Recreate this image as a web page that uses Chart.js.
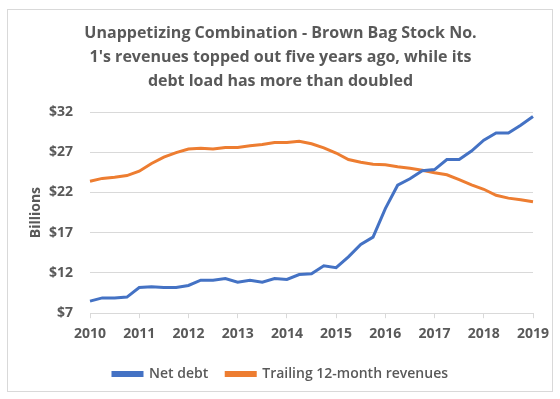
<!DOCTYPE html>
<html>
<head>
<meta charset="utf-8">
<script src="https://cdn.jsdelivr.net/npm/chart.js@4"></script>
<style>
  html, body { margin: 0; padding: 0; background: #fff; }
  #frame { position: absolute; left: 7px; top: 9px; width: 544px; height: 381px; border: 1px solid #d9d9d9; }
  #wrap { position: absolute; left: 0; top: 0; width: 560px; height: 399px; }
</style>
</head>
<body>
<div id="frame"></div>
<div id="wrap"><canvas id="chart"></canvas></div>
<script>
//
// data, quarterly from 2010 to 2019
//
var quarterLabels = [
  '2010', '', '', '', '2011', '', '', '', '2012', '', '', '',
  '2013', '', '', '', '2014', '', '', '', '2015', '', '', '',
  '2016', '', '', '', '2017', '', '', '', '2018', '', '', '', '2019'
];
var netDebt = [
  8.5, 8.9, 8.9, 9.0, 10.2, 10.3, 10.2, 10.2, 10.45, 11.1, 11.1, 11.3,
  10.85, 11.1, 10.85, 11.3, 11.2, 11.8, 11.9, 12.9, 12.65, 14.0, 15.55, 16.45,
  20.0, 22.9, 23.7, 24.7, 24.85, 26.1, 26.1, 27.15, 28.5, 29.4, 29.4, 30.35, 31.45
];
var revenues = [
  23.4, 23.75, 23.9, 24.1, 24.65, 25.6, 26.4, 26.95, 27.4, 27.5, 27.4, 27.6,
  27.6, 27.8, 27.95, 28.2, 28.2, 28.35, 28.05, 27.55, 26.9, 26.1, 25.75, 25.5,
  25.45, 25.2, 25.0, 24.75, 24.45, 24.2, 23.6, 22.95, 22.4, 21.65, 21.3, 21.1, 20.85
];
var titleLines = [
  'Unappetizing Combination - Brown Bag Stock No.',
  "1's revenues topped out five years ago, while its",
  'debt load has more than doubled'
];

var grey = '#595959';
var font_family = "'Open Sans', sans-serif";

var chart_config = {
  type : 'line',
  data : {
    labels : quarterLabels,
    datasets : [ {
      label : 'Net debt',
      data : netDebt,
      borderColor : '#4472c4',
      backgroundColor : '#4472c4',
      borderWidth : 3,
      pointRadius : 0,
      tension : 0
    }, {
      label : 'Trailing 12-month revenues',
      data : revenues,
      borderColor : '#ed7d31',
      backgroundColor : '#ed7d31',
      borderWidth : 3,
      pointRadius : 0,
      tension : 0
    } ]
  },
  options : {
    responsive : false,
    animation : false,
    layout : {padding : {left : 14, right : 13, top : 21, bottom : 8}},
    plugins : {
      title : {
        display : true,
        text : titleLines,
        color : grey,
        font : {family : font_family, size : 16, weight : 'bold', lineHeight : 1.5},
        padding : {top : 0, bottom : 19}
      },
      legend : {
        position : 'bottom',
        labels : {
          color : grey,
          font : {family : font_family, size : 14, weight : '600'},
          boxWidth : 29,
          boxHeight : 3,
          padding : 18
        }
      },
      tooltip : {enabled : false}
    },
    scales : {
      x : {
        offset : false,
        grid : {
          drawOnChartArea : false,
          drawTicks : true,
          tickLength : 5,
          color : function(c) { return quarterLabels[c.index] ? '#d9d9d9' : 'rgba(0,0,0,0)'; }
        },
        border : {display : true, color : '#d9d9d9'},
        ticks : {
          autoSkip : false,
          maxRotation : 0,
          color : grey,
          padding : 7,
          font : {family : font_family, size : 14, weight : 'bold'}
        }
      },
      y : {
        min : 7,
        max : 32,
        afterFit : function(s) { s.width = 76; },
        grid : {color : '#d9d9d9', drawTicks : false},
        border : {display : false},
        title : {
          display : true,
          text : 'Billions',
          color : grey,
          font : {family : font_family, size : 14, weight : 'bold'},
          padding : {top : 14, bottom : 0}
        },
        ticks : {
          stepSize : 5,
          color : grey,
          padding : 17,
          font : {family : font_family, size : 14, weight : 'bold'},
          callback : function(v) { return '$' + v; }
        }
      },
      // empty right axis, keeps the plot off the right edge
      yr : {
        position : 'right',
        afterFit : function(s) { s.width = 14; },
        grid : {display : false},
        border : {display : false},
        ticks : {display : false}
      }
    }
  }
};

var canvas = document.getElementById('chart');
canvas.width = 560;
canvas.height = 399;
new Chart(canvas.getContext('2d'), chart_config);
</script>
</body>
</html>
